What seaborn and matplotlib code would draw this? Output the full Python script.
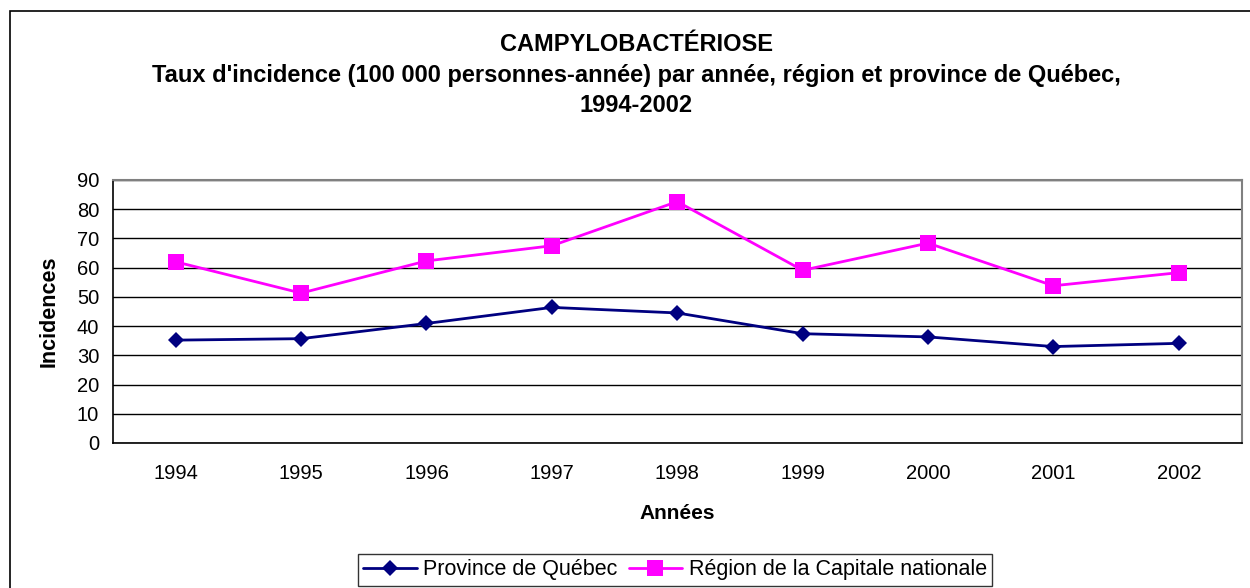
import pandas as pd
import numpy as np
import matplotlib
matplotlib.use("Agg")
import matplotlib.pyplot as plt
import seaborn as sns
from matplotlib.ticker import MultipleLocator, FixedLocator
from matplotlib.lines import Line2D

# data
years = [1994, 1995, 1996, 1997, 1998, 1999, 2000, 2001, 2002]
province = [35.2, 35.7, 40.9, 46.4, 44.5, 37.4, 36.3, 33.0, 34.1]
region = [62.0, 51.3, 62.3, 67.5, 82.6, 59.1, 68.4, 53.8, 58.3]
series_names = ["Province de Québec", "Région de la Capitale nationale"]

df = pd.DataFrame({
    "Année": years * 2,
    "Incidence": province + region,
    "Série": [series_names[0]] * len(years) + [series_names[1]] * len(years),
})

sns.set_style("white")
plt.rcParams['font.family'] = ['Liberation Sans', 'DejaVu Sans']
plt.rcParams['text.color'] = 'black'
plt.rcParams['axes.labelcolor'] = 'black'
plt.rcParams['xtick.color'] = 'black'
plt.rcParams['ytick.color'] = 'black'

fig = plt.figure(figsize=(12.5, 5.88), dpi=100)
ax = fig.add_axes([0.0904, 0.2466, 0.9028, 0.4473])

palette = {series_names[0]: "#000080", series_names[1]: "#FF00FF"}
markers = {series_names[0]: "D", series_names[1]: "s"}
sns.lineplot(data=df, x="Année", y="Incidence", hue="Série", style="Série",
             palette=palette, markers=markers, dashes=False, linewidth=2,
             markeredgewidth=0, ax=ax, legend=False)
# marker sizes per series
for line, ms in zip(ax.get_lines(), [8.5, 11]):
    line.set_markersize(ms)

ax.set_xlim(1993.5, 2002.5)
ax.set_ylim(0, 90)
ax.yaxis.set_major_locator(MultipleLocator(10))
ax.xaxis.set_major_locator(FixedLocator(years))
ax.xaxis.set_minor_locator(FixedLocator(np.arange(1993.5, 2003, 1.0)))
ax.set_xticklabels([str(y) for y in years])
ax.tick_params(axis="x", which="major", length=0, labelsize=14.5, pad=15)
ax.tick_params(axis="x", which="minor", length=6, width=1, color="black", direction="out")
ax.tick_params(axis="y", which="major", length=6, width=1, color="black", direction="out",
               labelsize=14.5, pad=4)
ax.grid(axis="y", color="black", linewidth=1)
ax.set_axisbelow(True)

for side in ["top", "right"]:
    ax.spines[side].set_color("#808080")
    ax.spines[side].set_linewidth(1.5)
for side in ["left", "bottom"]:
    ax.spines[side].set_color("black")
    ax.spines[side].set_linewidth(1.2)

ax.set_xlabel("Années", fontsize=15, fontweight="bold", labelpad=15)
ax.set_ylabel("Incidences", fontsize=15.5, fontweight="bold", labelpad=12)

fig.text(0.509, 0.925, "CAMPYLOBACTÉRIOSE", ha="center", va="center",
         fontsize=17, fontweight="bold")
fig.text(0.509, 0.871, "Taux d'incidence (100 000 personnes-année) par année, région et province de Québec,",
         ha="center", va="center", fontsize=17, fontweight="bold")
fig.text(0.509, 0.82, "1994-2002", ha="center", va="center",
         fontsize=17, fontweight="bold")

# legend
handles = [Line2D([], [], color="#000080", marker="D", markersize=8.5, linewidth=2, markeredgewidth=0),
           Line2D([], [], color="#FF00FF", marker="s", markersize=11, linewidth=2, markeredgewidth=0)]
leg = fig.legend(handles, series_names, loc="center", bbox_to_anchor=(0.54, 0.031),
                 ncol=2, fontsize=15.5, frameon=True, fancybox=False, edgecolor="black",
                 handlelength=2.5, handletextpad=0.3, columnspacing=0.5,
                 borderpad=0.25, borderaxespad=0)
leg.get_frame().set_linewidth(1)

# figure border (chart area)
fig.patches.append(plt.Rectangle((0.0076, -0.1), 1.2, 1.082, transform=fig.transFigure,
                                 fill=False, edgecolor="black", linewidth=1.2))

fig.savefig("out.png", dpi=100)
